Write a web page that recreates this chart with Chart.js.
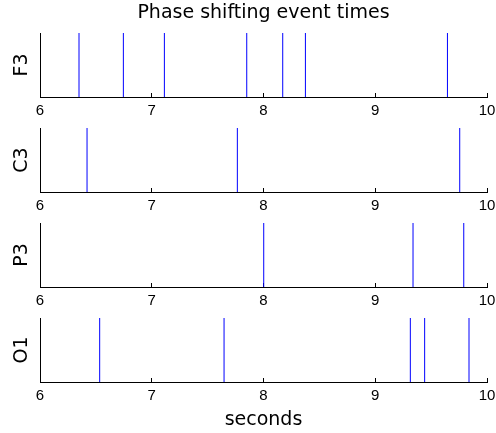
<!DOCTYPE html>
<html>
<head>
<meta charset="utf-8">
<script src="https://cdn.jsdelivr.net/npm/chart.js@4/dist/chart.umd.min.js"></script>
<style>
  html, body { margin: 0; padding: 0; background: #fff; }
  #wrap { position: relative; width: 496px; height: 433px; overflow: hidden; }
  #wrap canvas { position: absolute; left: 0; }
</style>
</head>
<body>
<div id="wrap">
  <canvas id="c0" width="496" height="123" style="top:0px"></canvas>
  <canvas id="c1" width="496" height="123" style="top:95px"></canvas>
  <canvas id="c2" width="496" height="123" style="top:190px"></canvas>
  <canvas id="c3" width="496" height="148" style="top:285px"></canvas>
</div>
<script>
const titleText = 'Phase shifting event times';
const xLabel = 'seconds';
const channels = ['F3', 'C3', 'P3', 'O1'];
const xTicks = [6, 7, 8, 9, 10];

// event times in seconds, one array per channel
const f3Times = [6.349, 6.746, 7.113, 7.850, 8.172, 8.375, 9.646];
const c3Times = [6.421, 7.766, 9.756];
const p3Times = [8.002, 9.338, 9.792];
const o1Times = [6.534, 7.647, 9.314, 9.442, 9.839];

const eventTimes = [f3Times, c3Times, p3Times, o1Times];

const TICK_FONT = 'Liberation Sans, Arial, Helvetica, sans-serif';
const LABEL_FONT = 'DejaVu Sans, Liberation Sans, sans-serif';
const BLUE = '#0000ff';

function makePanel(idx) {
  const first = idx === 0;
  const last = idx === channels.length - 1;

  // each event is a vertical stroke from the bottom to the top of the panel
  const datasets = eventTimes[idx].map(t => ({
    data: [{ x: t, y: 0 }, { x: t, y: 1 }],
    showLine: true,
    borderColor: BLUE,
    borderWidth: 1,
    pointRadius: 0,
    pointHoverRadius: 0
  }));

  return new Chart(document.getElementById('c' + idx), {
    type: 'scatter',
    data: { datasets },
    options: {
      responsive: false,
      animation: false,
      events: [],
      layout: { padding: { top: first ? 0 : 33, right: 9, left: 0, bottom: 0 } },
      plugins: {
        legend: { display: false },
        tooltip: { enabled: false },
        title: {
          display: first,
          text: titleText,
          fullSize: false,
          color: '#000',
          font: { family: LABEL_FONT, size: 19, weight: 'normal' },
          padding: { top: 1.6, bottom: 8.6 }
        }
      },
      scales: {
        x: {
          type: 'linear',
          min: xTicks[0],
          max: xTicks[xTicks.length - 1],
          afterBuildTicks: s => { s.ticks = xTicks.map(v => ({ value: v })); },
          // fixed axis height; end labels may hang past the plot edges
          afterFit: s => {
            s.height = last ? 51 : 26;
            s.paddingLeft = 0;
            s.paddingRight = 0;
          },
          grid: {
            display: true,
            drawOnChartArea: false,
            drawTicks: true,
            tickLength: -4,
            color: '#000',
            lineWidth: 1
          },
          border: { display: true, color: '#000', width: 1 },
          ticks: {
            color: '#000',
            padding: 9,
            maxRotation: 0,
            font: { family: TICK_FONT, size: 15 }
          },
          title: {
            display: last,
            text: xLabel,
            color: '#000',
            font: { family: LABEL_FONT, size: 19 },
            padding: { top: 0, bottom: 1.6 }
          }
        },
        y: {
          min: 0,
          max: 1,
          afterFit: s => { s.width = 40; },
          grid: { display: false },
          border: { display: true, color: '#000', width: 1 },
          ticks: { display: false },
          title: {
            display: true,
            text: channels[idx],
            color: '#000',
            font: { family: LABEL_FONT, size: 19 },
            padding: { top: 11, bottom: 0 }
          }
        }
      }
    }
  });
}

channels.forEach((_, i) => makePanel(i));
</script>
</body>
</html>
